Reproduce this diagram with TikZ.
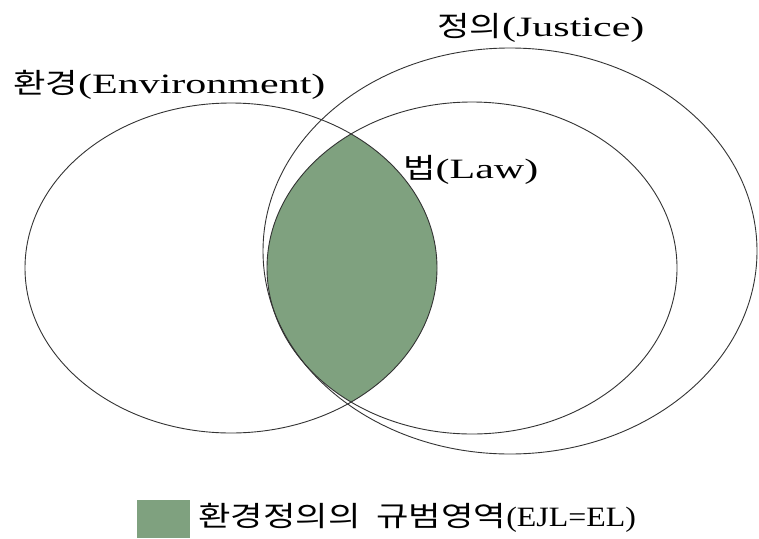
\documentclass[tikz,border=0pt]{standalone}
\usepackage{fontspec}
\setmainfont[FakeStretch=1.5]{Liberation Serif}
\newfontfamily\kr[FakeStretch=1.26]{Noto Sans CJK KR}
\newfontfamily\capfont[FakeStretch=1.14]{Liberation Serif}
\definecolor{lawgreen}{RGB}{127,161,127}
\tikzset{
  outline/.style={draw=black!80, line width=0.9pt},
  lbl/.style={anchor=west, inner sep=0pt, font=\fontsize{28}{30}\selectfont},
}
\begin{document}
\begin{tikzpicture}[x=1pt,y=-1pt]
\useasboundingbox (0,0) rectangle (759,538);
\fill[white] (0,0) rectangle (759,538);
% intersection of Environment and Law
\begin{scope}
  \clip (231,268) ellipse [x radius=206pt, y radius=165pt];
  \fill[lawgreen] (472,268) ellipse [x radius=205pt, y radius=166pt];
\end{scope}
% Environment
\draw[outline] (231,268) ellipse [x radius=206pt, y radius=165pt];
% Law
\draw[outline] (472,268) ellipse [x radius=205pt, y radius=166pt];
% Justice
\draw[outline] (510,251) ellipse [x radius=247pt, y radius=203pt];
% labels
\node[lbl] (envlabel) at (13,85) {{\kr 환경}(Environment)};
\node[lbl] (justlabel) at (437,28) {{\kr 정의}(Justice)};
\node[lbl] (lawlabel) at (403,170) {{\kr 법}(Law)};
% legend
\node[fill=lawgreen, minimum width=53pt, minimum height=38pt, inner sep=0pt, anchor=north west] (legendbox) at (137,500) {};
\node[lbl] (legendtext) at (198,518) {{\kr 환경정의의\hspace{16pt}규범영역}{\capfont(EJL=EL)}};
\end{tikzpicture}
\end{document}
